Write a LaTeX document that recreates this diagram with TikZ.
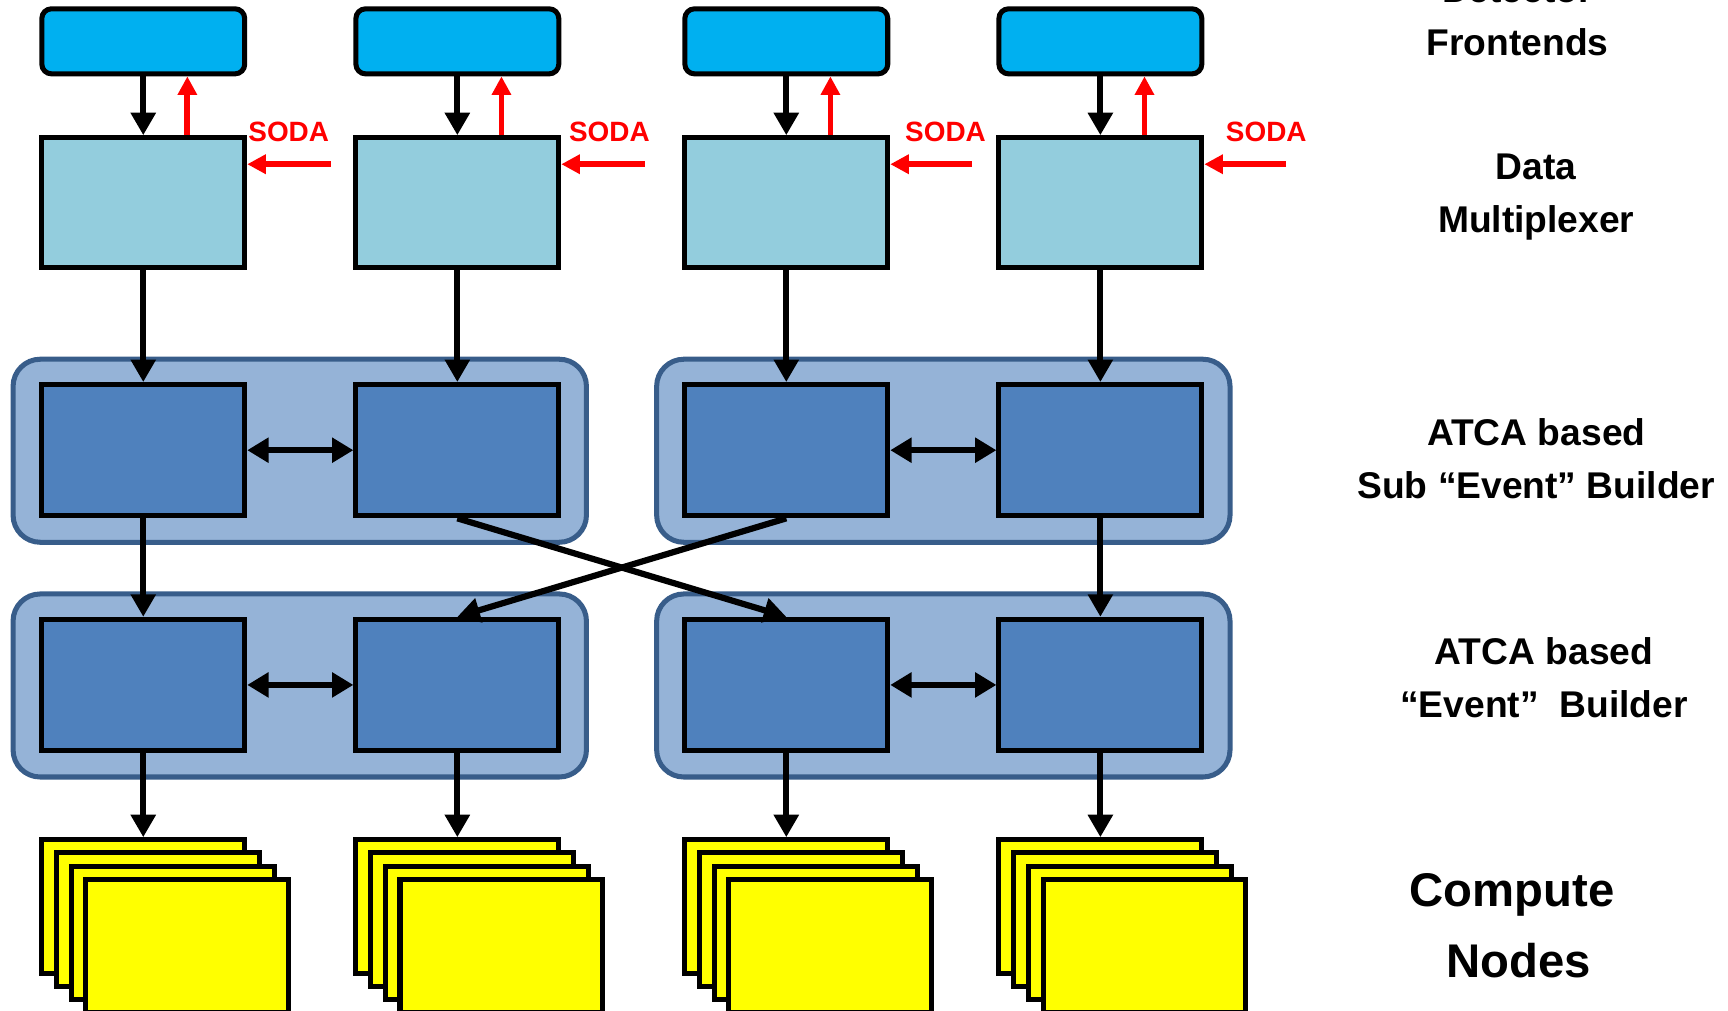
\documentclass[tikz,border=0pt]{standalone}
\usepackage{xcolor}
\usepackage{fontspec}
\setmainfont{Liberation Sans}
\usepackage{tikz}
\usetikzlibrary{arrows.meta}

\definecolor{feblue}{HTML}{00B0F0}
\definecolor{muxblue}{HTML}{93CDDD}
\definecolor{ebblue}{HTML}{4F81BD}
\definecolor{grpfill}{HTML}{95B3D7}
\definecolor{grpline}{HTML}{385D8A}
\definecolor{nodeyellow}{HTML}{FFFF00}

\tikzset{
  fe/.style={draw, line width=1.3pt, fill=feblue, rounded corners=2.5pt, minimum width=1.84cm, minimum height=0.59cm},
  mux/.style={draw, line width=1.3pt, fill=muxblue, minimum width=1.84cm, minimum height=1.18cm},
  builder/.style={draw, line width=1.3pt, fill=ebblue, minimum width=1.84cm, minimum height=1.19cm},
  group/.style={draw=grpline, line width=1.3pt, fill=grpfill, rounded corners=7pt, minimum width=5.2cm, minimum height=1.66cm},
  cnode/.style={draw, line width=1.3pt, fill=nodeyellow, minimum width=1.84cm, minimum height=1.21cm},
  flow/.style={line width=1.6pt, -{Triangle[length=5.8pt,width=6.2pt]}},
  both/.style={line width=1.7pt, {Triangle[length=5.5pt,width=6.2pt]}-{Triangle[length=5.5pt,width=6.2pt]}},
  soda/.style={red, line width=1.5pt, -{Triangle[length=4.8pt,width=4.8pt]}},
  sodalabel/.style={text=red, font=\bfseries\fontsize{7.2}{8}\selectfont},
  layer/.style={font=\bfseries\fontsize{9.6}{13.7}\selectfont, align=center},
}

\begin{document}
\begin{tikzpicture}[x=0.01cm, y=-0.01cm]
        \useasboundingbox (0,0) rectangle (1568,917);

        % Detector frontends
        \node[fe] (f1) at (130,37.5) {};
        \node[fe] (f2) at (415,37.5) {};
        \node[fe] (f3) at (713.5,37.5) {};
        \node[fe] (f4) at (998.5,37.5) {};

        % Data multiplexers
        \node[mux] (m1) at (130,184) {};
        \node[mux] (m2) at (415,184) {};
        \node[mux] (m3) at (713.5,184) {};
        \node[mux] (m4) at (998.5,184) {};

        % ATCA crates
        \node[group] (sebL) at (272,409) {};
        \node[group] (sebR) at (856,409) {};
        \node[group] (ebL) at (272,622) {};
        \node[group] (ebR) at (856,622) {};

        % Sub event builders
        \node[builder] (s1) at (130,408.5) {};
        \node[builder] (s2) at (415,408.5) {};
        \node[builder] (s3) at (713.5,408.5) {};
        \node[builder] (s4) at (998.5,408.5) {};

        % Event builders
        \node[builder] (e1) at (130,621.5) {};
        \node[builder] (e2) at (415,621.5) {};
        \node[builder] (e3) at (713.5,621.5) {};
        \node[builder] (e4) at (998.5,621.5) {};

        % Compute node stacks
        \node[cnode] (c1) at (130,822.5) {};
        \node[cnode] (c1b) at (143.3,834.5) {};
        \node[cnode] (c1c) at (156.6,846.5) {};
        \node[cnode] (c1d) at (170,858.5) {};
        \node[cnode] (c2) at (415,822.5) {};
        \node[cnode] (c2b) at (428.3,834.5) {};
        \node[cnode] (c2c) at (441.6,846.5) {};
        \node[cnode] (c2d) at (455,858.5) {};
        \node[cnode] (c3) at (713.5,822.5) {};
        \node[cnode] (c3b) at (726.8,834.5) {};
        \node[cnode] (c3c) at (740.1,846.5) {};
        \node[cnode] (c3d) at (753.5,858.5) {};
        \node[cnode] (c4) at (998.5,822.5) {};
        \node[cnode] (c4b) at (1011.8,834.5) {};
        \node[cnode] (c4c) at (1025.1,846.5) {};
        \node[cnode] (c4d) at (1038.5,858.5) {};

        % Data flow
        \draw[flow] (f1) -- (m1);
        \draw[flow] (f2) -- (m2);
        \draw[flow] (f3) -- (m3);
        \draw[flow] (f4) -- (m4);
        \draw[flow] (m1) -- (s1);
        \draw[flow] (m2) -- (s2);
        \draw[flow] (m3) -- (s3);
        \draw[flow] (m4) -- (s4);
        \draw[flow] (s1) -- (e1);
        \draw[flow] (s2.south) -- (e3.north);
        \draw[flow] (s3.south) -- (e2.north);
        \draw[flow] (s4) -- (e4);
        \draw[flow] (e1) -- (c1);
        \draw[flow] (e2) -- (c2);
        \draw[flow] (e3) -- (c3);
        \draw[flow] (e4) -- (c4);
        \draw[both] (s1) -- (s2);
        \draw[both] (s3) -- (s4);
        \draw[both] (e1) -- (e2);
        \draw[both] (e3) -- (e4);

        % SODA links
        \draw[soda] ([xshift=0.4cm]m1.north) -- ([xshift=0.4cm]f1.south);
        \draw[soda] ([xshift=0.4cm]m2.north) -- ([xshift=0.4cm]f2.south);
        \draw[soda] ([xshift=0.4cm]m3.north) -- ([xshift=0.4cm]f3.south);
        \draw[soda] ([xshift=0.4cm]m4.north) -- ([xshift=0.4cm]f4.south);
        \coordinate (in1) at (300,149);
        \coordinate (in2) at (585,149);
        \coordinate (in3) at (882,149);
        \coordinate (in4) at (1167,149);
        \draw[soda] (in1) -- (in1 -| m1.east);
        \draw[soda] (in2) -- (in2 -| m2.east);
        \draw[soda] (in3) -- (in3 -| m3.east);
        \draw[soda] (in4) -- (in4 -| m4.east);
        \node[sodalabel] (soda1) at (262,120) {SODA};
        \node[sodalabel] (soda2) at (553,120) {SODA};
        \node[sodalabel] (soda3) at (858,120) {SODA};
        \node[sodalabel] (soda4) at (1149,120) {SODA};

        % Layer labels
        \node[layer] (lfe) at (1377,15) {Detector\\Frontends};
        \node[layer] (lmux) at (1394,179) {Data\\Multiplexer};
        \node[layer] (lseb) at (1394,416) {ATCA based\\Sub “Event” Builder};
        \node[layer] (leb) at (1401,615) {ATCA based\\“Event”~~Builder};
        \node[layer, font=\bfseries\fontsize{12.2}{18.2}\selectfont] (lcn) at (1372,840) {Compute\\~Nodes};
    \end{tikzpicture}
\end{document}
